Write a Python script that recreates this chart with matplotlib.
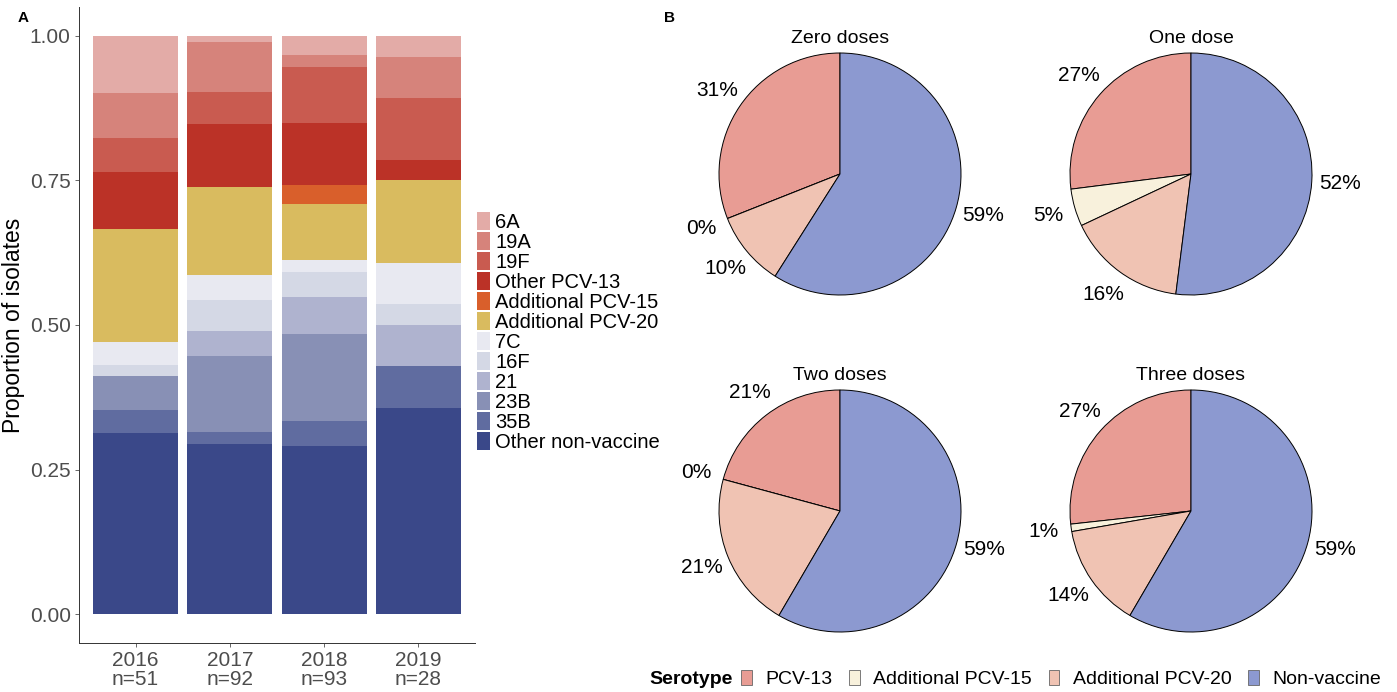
import numpy as np
import matplotlib
matplotlib.use("Agg")
import matplotlib.pyplot as plt
from matplotlib.patches import Patch

plt.rcParams['font.family'] = ['Liberation Sans', 'DejaVu Sans']

# --- panel A data: isolate counts per serotype group, bottom to top ---
years = ["2016", "2017", "2018", "2019"]
n_isolates = [51, 92, 93, 28]
serotypes = ["Other non-vaccine", "35B", "23B", "21", "16F", "7C",
             "Additional PCV-20", "Additional PCV-15", "Other PCV-13",
             "19F", "19A", "6A"]
serotype_colors = ["#3a4889", "#606ca0", "#8890b5", "#afb3cf", "#d4d8e5", "#e8e9f1",
                   "#d9bb5f", "#d95f2b", "#bb3227", "#c95b50", "#d6837b", "#e3aba7"]
counts_2016 = [16, 2, 3, 0, 1, 2, 10, 0, 5, 3, 4, 5]
counts_2017 = [27, 2, 12, 4, 5, 4, 14, 0, 10, 5, 8, 1]
counts_2018 = [27, 4, 14, 6, 4, 2, 9, 3, 10, 9, 2, 3]
counts_2019 = [10, 2, 0, 2, 1, 2, 4, 0, 1, 3, 2, 1]

# --- panel B data: serotype coverage by number of doses (%) ---
dose_titles = ["Zero doses", "One dose", "Two doses", "Three doses"]
pcv13_pct = [31, 27, 21, 27]
pcv15_pct = [0, 5, 0, 1]
pcv20_pct = [10, 16, 21, 14]
nonvaccine_pct = [59, 52, 59, 59]
pie_groups = ["PCV-13", "Additional PCV-15", "Additional PCV-20", "Non-vaccine"]
pie_colors = ["#e89c94", "#f8f1dc", "#f0c3b3", "#8c99d0"]

W, H = 1397, 692
fig = plt.figure(figsize=(W / 100, H / 100), dpi=100)

# ---------------- panel A ----------------
ax = fig.add_axes([79 / W, (H - 643) / H, 396 / W, 636 / H])
all_counts = np.array([counts_2016, counts_2017, counts_2018, counts_2019], dtype=float)
props = all_counts / np.array(n_isolates)[:, None]
x = np.arange(len(years))
bottom = np.zeros(len(years))
for i, name in enumerate(serotypes):
    ax.bar(x, props[:, i], bottom=bottom, width=0.9, color=serotype_colors[i],
           edgecolor="none", label=name)
    bottom += props[:, i]

ax.set_xlim(-0.6, len(years) - 0.4)
ax.set_ylim(-0.05, 1.05)
ax.set_yticks([0, 0.25, 0.5, 0.75, 1.0])
ax.set_yticklabels(["0.00", "0.25", "0.50", "0.75", "1.00"])
ax.set_xticks(x)
ax.set_xticklabels([f"{y}\nn={n}" for y, n in zip(years, n_isolates)], linespacing=1.0)
ax.tick_params(labelsize=15, colors="#4d4d4d", length=3, width=0.6, pad=3)
ax.set_ylabel("Proportion of isolates", fontsize=16.5, labelpad=3)
for s in ["top", "right"]:
    ax.spines[s].set_visible(False)
for s in ["left", "bottom"]:
    ax.spines[s].set_color("#333333")
    ax.spines[s].set_linewidth(0.7)

handles, labels = ax.get_legend_handles_labels()
ax.legend(handles[::-1], labels[::-1], loc="center left", bbox_to_anchor=(1.0, 0.489),
          frameon=False, fontsize=14.5, handlelength=0.65, handleheight=0.95,
          labelspacing=0.02, handletextpad=0.25, borderaxespad=0.1, borderpad=0)

fig.text(18 / W, 1 - 18 / H, "A", fontsize=11, fontweight="bold", ha="left", va="center")
fig.text(664 / W, 1 - 18 / H, "B", fontsize=11, fontweight="bold", ha="left", va="center")

# ---------------- panel B ----------------
centers = [(840, 174), (1191, 174), (840, 511), (1191, 511)]
r = 121
lim = 1.45
for k, (cx, cy) in enumerate(centers):
    size = 2 * lim * r
    pax = fig.add_axes([(cx - size / 2) / W, (H - cy - size / 2) / H, size / W, size / H])
    vals = [pcv13_pct[k], pcv15_pct[k], pcv20_pct[k], nonvaccine_pct[k]]
    wedges, _ = pax.pie(vals, colors=pie_colors, startangle=90, counterclock=True,
                        radius=1.0, wedgeprops=dict(edgecolor="black", linewidth=0.7))
    for w, v in zip(wedges, vals):
        mid = np.deg2rad((w.theta1 + w.theta2) / 2)
        pax.text(1.23 * np.cos(mid), 1.23 * np.sin(mid), f"{v}%", fontsize=15,
                 ha="center", va="center")
    pax.text(0, 1.12, dose_titles[k], fontsize=14, ha="center", va="center")
    pax.set_xlim(-lim, lim)
    pax.set_ylim(-lim, lim)
    pax.set_aspect("equal")
    pax.axis("off")

fig.text(733 / W, 1 - 679 / H, "Serotype", fontsize=14, fontweight="bold",
         ha="right", va="center")
pie_handles = [Patch(facecolor=c, edgecolor="#666666", linewidth=0.6, label=g)
               for c, g in zip(pie_colors, pie_groups)]
fig.legend(handles=pie_handles, loc="center left", bbox_to_anchor=(741 / W, 1 - 679 / H),
           ncol=4, frameon=False, fontsize=14, handlelength=0.55, handleheight=0.85,
           handletextpad=0.7, columnspacing=0.85, borderaxespad=0, borderpad=0)

fig.savefig("out.png", dpi=100)
